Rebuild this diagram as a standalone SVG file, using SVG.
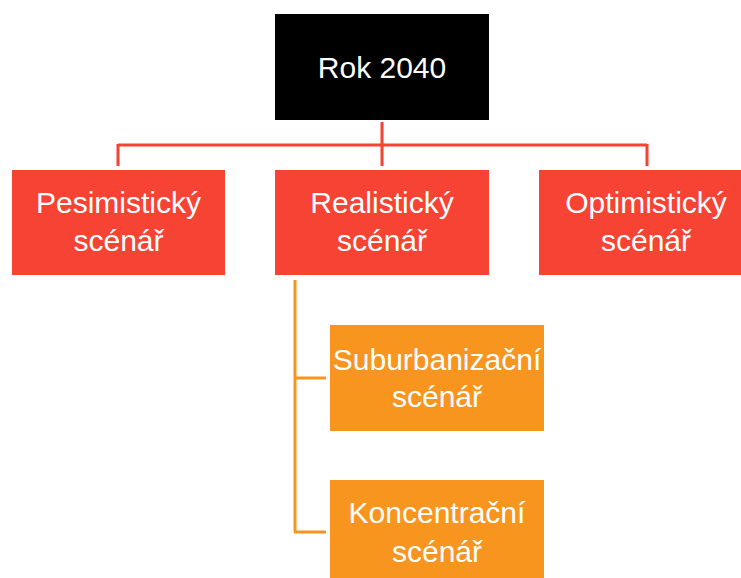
<svg xmlns="http://www.w3.org/2000/svg" width="741" height="578" viewBox="0 0 741 578">
<style>
.t{font-family:"Liberation Sans",Arial,sans-serif;font-size:30px;fill:#fff;text-anchor:middle}
.red{fill:#F64333}
.org{fill:#F7951E}
.lr{stroke:#F64333;stroke-width:3;fill:none}
.lo{stroke:#F7951E;stroke-width:3;fill:none}
</style>
<rect width="741" height="578" fill="#fff"/>
<g id="connectors">
<path class="lr" d="M382,122V166M118,145H647M118,144V166M647,144V166"/>
<path class="lo" d="M295,280V532M294,378H326M294,532H326"/>
</g>
<g id="rok"><rect x="275" y="14" width="214" height="106" fill="#000"/><text class="t" x="382" y="78">Rok 2040</text></g>
<g id="pes"><rect class="red" x="12" y="170" width="213" height="105"/><text class="t" x="118.500" y="213">Pesimistický</text><text class="t" x="118.500" y="251">scénář</text></g>
<g id="real"><rect class="red" x="275" y="170" width="214" height="105"/><text class="t" x="382" y="213">Realistický</text><text class="t" x="382" y="251">scénář</text></g>
<g id="opt"><rect class="red" x="539" y="170" width="202" height="105"/><text class="t" x="646" y="213">Optimistický</text><text class="t" x="646" y="251">scénář</text></g>
<g id="sub"><rect class="org" x="330" y="325" width="214" height="106"/><text class="t" x="437" y="370">Suburbanizační</text><text class="t" x="437" y="407">scénář</text></g>
<g id="kon"><rect class="org" x="330" y="480" width="214" height="98"/><text class="t" x="437" y="523">Koncentrační</text><text class="t" x="437" y="562">scénář</text></g>
</svg>
